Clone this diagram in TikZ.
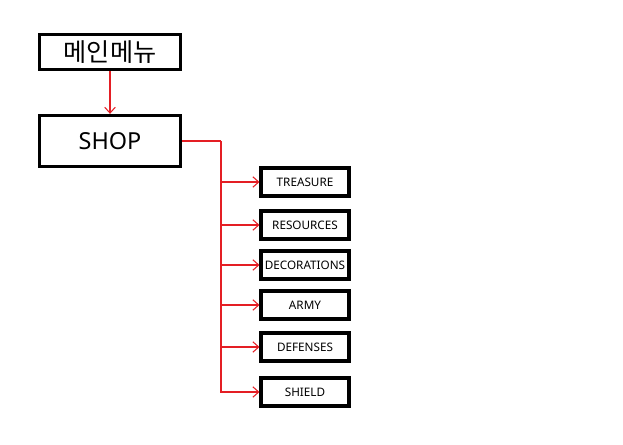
\documentclass[tikz,border=0pt]{standalone}
\usepackage{fontspec}
\setmainfont{Noto Sans}
\newfontfamily\krfont{Noto Sans CJK KR}
\usetikzlibrary{arrows.meta}
\definecolor{wirered}{RGB}{228,30,36}
\tikzset{
  bigbox/.style={draw,line width=2.8pt,minimum width=4.24cm,minimum height=1.05cm,inner sep=0pt,font=\fontsize{20}{24}\selectfont},
  itembox/.style={draw,line width=2.6pt,minimum width=2.64cm,minimum height=0.84cm,inner sep=0pt,font=\fontsize{10}{12}\selectfont},
  wire/.style={wirered,line width=0.9pt},
  tip/.style={-{Straight Barb[length=5pt,width=9pt,line width=0.9pt]}}
}

\begin{document}
\begin{tikzpicture}[x=0.03cm,y=-0.03cm]
\useasboundingbox (0,0) rectangle (623,444); %Canvas
\node[bigbox] (menu) at (110,52) {\krfont\fontsize{21.5}{24}\selectfont 메인메뉴}; %Main menu
\node[bigbox,minimum height=1.53cm] (shop) at (110,141) {SHOP}; %Shop
\coordinate (bus) at (221,141); %Branch point
\node[itembox] (treasure) at (305,182) {TREASURE};
\node[itembox] (resources) at (305,225) {RESOURCES};
\node[itembox] (decorations) at (305,265) {DECORATIONS};
\node[itembox] (army) at (305,305) {ARMY};
\node[itembox] (defenses) at (305,347) {DEFENSES};
\node[itembox] (shield) at (305,392) {SHIELD};
\draw[wire,tip] (menu) -- (shop);
\draw[wire] (shop.east) -- (bus);
\foreach \item in {treasure,resources,decorations,army,defenses,shield}
  \draw[wire,tip] (bus) |- (\item.west);
\end{tikzpicture}
\end{document}
